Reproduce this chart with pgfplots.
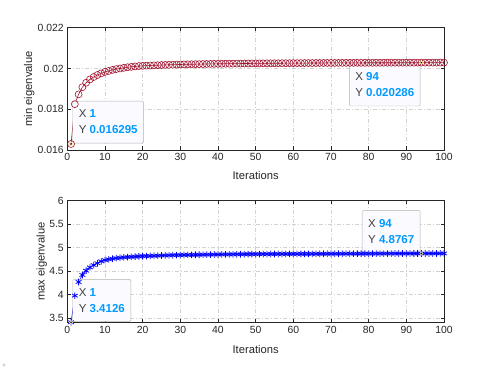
\documentclass[border=0pt]{standalone}
\usepackage{pgfplots}
\pgfplotsset{compat=1.18}
\usepackage{pgfplotstable}
\usepackage{fontspec}
\setmainfont{Liberation Sans}
\definecolor{axgray}{rgb}{0.15,0.15,0.15}
\definecolor{mred}{rgb}{0.635,0.078,0.184}
\definecolor{tipblue}{rgb}{0,0.6,1}
\definecolor{tipfill}{rgb}{0.985,0.985,1}

% min eigenvalue per iteration
\pgfplotstableread{
n y
1 0.016295
2 0.01825
3 0.01873
4 0.01908
5 0.01930
6 0.01946
7 0.01958
8 0.01968
9 0.01976
10 0.01983
11 0.01988
12 0.01993
13 0.01997
14 0.02000
15 0.02003
16 0.02006
17 0.02008
18 0.02010
19 0.02012
20 0.020127
21 0.020137
22 0.020146
23 0.020154
24 0.020161
25 0.020168
26 0.020174
27 0.020180
28 0.020185
29 0.020190
30 0.020195
31 0.020199
32 0.020203
33 0.020207
34 0.020210
35 0.020214
36 0.020217
37 0.020220
38 0.020223
39 0.020226
40 0.020228
41 0.020231
42 0.020233
43 0.020235
44 0.020237
45 0.020239
46 0.020241
47 0.020243
48 0.020245
49 0.020247
50 0.020248
51 0.020250
52 0.020251
53 0.020253
54 0.020254
55 0.020256
56 0.020257
57 0.020258
58 0.020259
59 0.020261
60 0.020262
61 0.020263
62 0.020264
63 0.020265
64 0.020266
65 0.020267
66 0.020268
67 0.020269
68 0.020270
69 0.020271
70 0.020271
71 0.020272
72 0.020273
73 0.020274
74 0.020275
75 0.020275
76 0.020276
77 0.020277
78 0.020277
79 0.020278
80 0.020279
81 0.020279
82 0.020280
83 0.020280
84 0.020281
85 0.020282
86 0.020282
87 0.020283
88 0.020283
89 0.020284
90 0.020284
91 0.020285
92 0.020285
93 0.020286
94 0.020286
95 0.020287
96 0.020287
97 0.020287
98 0.020288
99 0.020288
100 0.020289
}\mindata

% max eigenvalue per iteration
\pgfplotstableread{
n y
1 3.4126
2 3.98
3 4.27
4 4.42
5 4.51
6 4.58
7 4.63
8 4.67
9 4.71
10 4.735
11 4.752
12 4.766
13 4.777
14 4.786
15 4.7937
16 4.7999
17 4.8054
18 4.8102
19 4.8145
20 4.8184
21 4.8219
22 4.8251
23 4.8281
24 4.8307
25 4.8332
26 4.8355
27 4.8376
28 4.8395
29 4.8414
30 4.8431
31 4.8447
32 4.8462
33 4.8476
34 4.8489
35 4.8501
36 4.8513
37 4.8524
38 4.8535
39 4.8545
40 4.8554
41 4.8563
42 4.8572
43 4.8580
44 4.8588
45 4.8595
46 4.8602
47 4.8609
48 4.8616
49 4.8622
50 4.8628
51 4.8634
52 4.8639
53 4.8645
54 4.8650
55 4.8655
56 4.8660
57 4.8664
58 4.8669
59 4.8673
60 4.8677
61 4.8681
62 4.8685
63 4.8689
64 4.8693
65 4.8696
66 4.8700
67 4.8703
68 4.8706
69 4.8710
70 4.8713
71 4.8716
72 4.8718
73 4.8721
74 4.8724
75 4.8727
76 4.8729
77 4.8732
78 4.8734
79 4.8737
80 4.8739
81 4.8741
82 4.8744
83 4.8746
84 4.8748
85 4.8750
86 4.8752
87 4.8754
88 4.8756
89 4.8758
90 4.8760
91 4.8761
92 4.8763
93 4.8765
94 4.8767
95 4.8768
96 4.8770
97 4.8771
98 4.8773
99 4.8775
100 4.8776
}\maxdata

\pgfplotsset{
  matlab/.style={
    scale only axis, width=376.7pt,
    xmin=0, xmax=100, xtick={0,10,...,100},
    axis line style={axgray, line width=0.6pt},
    tick style={axgray, line width=0.6pt},
    tick align=inside, major tick length=3.5pt,
    xtick pos=both, ytick pos=both,
    grid=major,
    major grid style={gray!35, line width=0.5pt, dash pattern=on 4pt off 2pt on 1pt off 2pt},
    tick label style={font=\fontsize{10.4}{12}\selectfont, color=axgray},
    label style={font=\fontsize{11.2}{13}\selectfont, color=axgray},
    /pgf/number format/assume math mode=true,
    xlabel={Iterations},
  },
}
\tikzset{
  dtip/.style={draw=gray!60, fill=tipfill, rounded corners=1.2pt, inner xsep=6pt, inner ysep=9pt,
    align=left, font=\fontsize{11.5}{16}\selectfont, text=black!75},
}
\newcommand{\tipval}[2]{X {\color{tipblue}\bfseries #1}\\Y {\color{tipblue}\bfseries #2}}

\begin{document}
\begin{tikzpicture}
\useasboundingbox (0,0) rectangle (491pt,369pt);
\fill[gray!30] (4pt,4pt) circle (1.8pt);

\begin{axis}[matlab,
  at={(67.3pt,219pt)}, anchor=south west, height=122.3pt,
  ymin=0.016, ymax=0.022, ytick={0.016,0.018,0.02,0.022},
  scaled y ticks=false,
  yticklabel style={/pgf/number format/fixed, /pgf/number format/precision=3},
  ylabel={min eigenvalue},
  ylabel style={at={(axis description cs:-0.1009,0.5)}, anchor=center},
  xlabel style={at={(axis description cs:0.5,-0.2126)}, anchor=center},
  clip=false,
]
\addplot[mred, line width=0.6pt, mark=o, mark size=3.5pt, mark options={line width=0.6pt}] table {\mindata};
\addplot[only marks, mark=*, mark size=1.6pt, mark options={fill=black, draw=yellow!35!white, line width=0.6pt}]
  coordinates {(1,0.016295) (94,0.020286)};
\node[dtip, anchor=south west, xshift=1.5pt, yshift=0.7pt] at (axis cs:1,0.016295) {\tipval{1}{0.016295}};
\node[dtip, anchor=north east, xshift=-1pt, yshift=-1pt] at (axis cs:94,0.020286) {\tipval{94}{0.020286}};
\end{axis}

\begin{axis}[matlab,
  at={(67.3pt,46.7pt)}, anchor=south west, height=121.6pt,
  ymin=3.4126, ymax=6, ytick={3.5,4,...,6},
  ylabel={max eigenvalue},
  ylabel style={at={(axis description cs:-0.068,0.5)}, anchor=center},
  xlabel style={at={(axis description cs:0.5,-0.222)}, anchor=center},
  clip=false,
]
\addplot[blue, line width=0.6pt, mark=asterisk, mark size=3.3pt, mark options={line width=0.8pt}] table {\maxdata};
\addplot[only marks, mark=*, mark size=1.6pt, mark options={fill=black, draw=yellow!35!white, line width=0.6pt}]
  coordinates {(1,3.4126) (94,4.8767)};
\node[dtip, anchor=south west, xshift=1.5pt, yshift=0.7pt] at (axis cs:1,3.4126) {\tipval{1}{3.4126}};
\node[dtip, anchor=south east, xshift=-1pt, yshift=0.7pt] at (axis cs:94,4.8767) {\tipval{94}{4.8767}};
\end{axis}
\end{tikzpicture}
\end{document}
